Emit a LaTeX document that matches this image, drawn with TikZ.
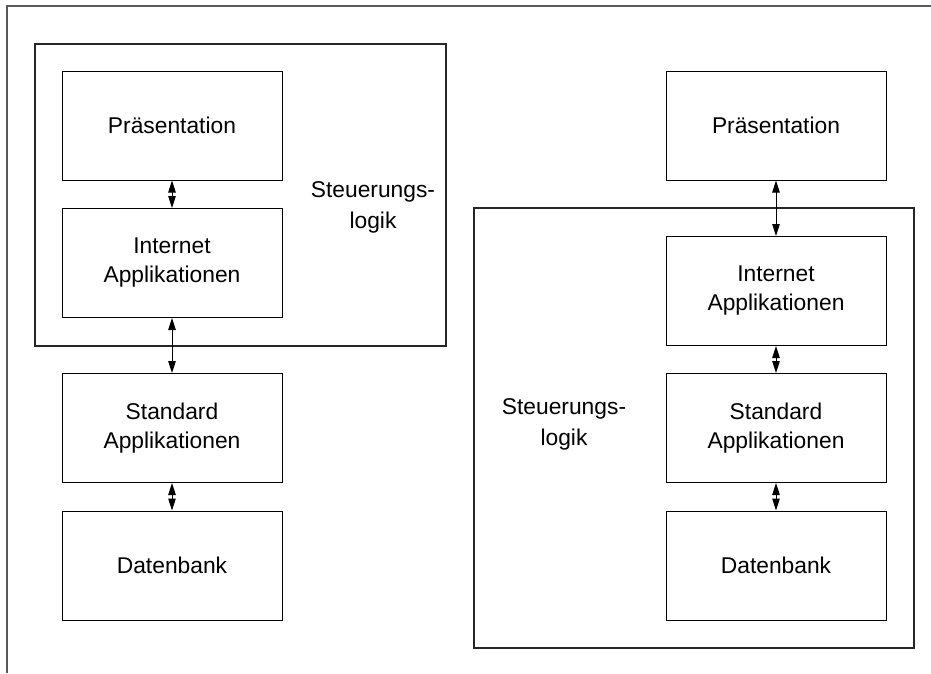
\documentclass[tikz,border=0pt]{standalone}
\usepackage{fontspec}
\setmainfont{Liberation Sans}
\usetikzlibrary{arrows.meta}
\begin{document}
\begin{tikzpicture}[x=1pt,y=-1pt,
  layerbox/.style={draw=black,line width=1pt,rectangle,minimum width=220pt,minimum height=109pt,inner sep=0pt,align=center,font=\fontsize{22.8}{29}\selectfont},
  container/.style={draw=black!85,line width=1.1pt,rectangle,inner sep=0pt},
  lbl/.style={align=center,font=\fontsize{22.8}{31}\selectfont,inner sep=0pt},
  link/.style={line width=1pt,{Triangle[length=12pt,width=7.5pt]}-{Triangle[length=12pt,width=7.5pt]}}
]
\useasboundingbox (0,0) rectangle (931,673);
\coordinate (fTL) at (7,6);
\coordinate (fTR) at (931,6);
\coordinate (fBL) at (7,673);
\draw[line width=1.3pt,black!65] (fTR) -- (fTL) -- (fBL);
% left side
\node[container,minimum width=411pt,minimum height=302pt] (contL) at (240.5,195) {};
\node[layerbox] (praesL) at (172,125.5) {Präsentation};
\node[layerbox] (inetL) at (172,263) {Internet\\Applikationen};
\node[layerbox] (stdL) at (172,428) {Standard\\Applikationen};
\node[layerbox] (dbL) at (172,565.5) {Datenbank};
\node[lbl] (steuL) at (373,207) {Steuerungs-\\logik};
\draw[link] (praesL.south) -- (inetL.north);
\draw[link] (inetL.south) -- (stdL.north);
\draw[link] (stdL.south) -- (dbL.north);
% right side
\node[container,minimum width=440pt,minimum height=440pt] (contR) at (694,428) {};
\node[layerbox] (praesR) at (776,125.5) {Präsentation};
\node[layerbox] (inetR) at (776,291) {Internet\\Applikationen};
\node[layerbox] (stdR) at (776,428) {Standard\\Applikationen};
\node[layerbox] (dbR) at (776,565.5) {Datenbank};
\node[lbl] (steuR) at (564,424) {Steuerungs-\\logik};
\draw[link] (praesR.south) -- (inetR.north);
\draw[link] (inetR.south) -- (stdR.north);
\draw[link] (stdR.south) -- (dbR.north);
\end{tikzpicture}
\end{document}
